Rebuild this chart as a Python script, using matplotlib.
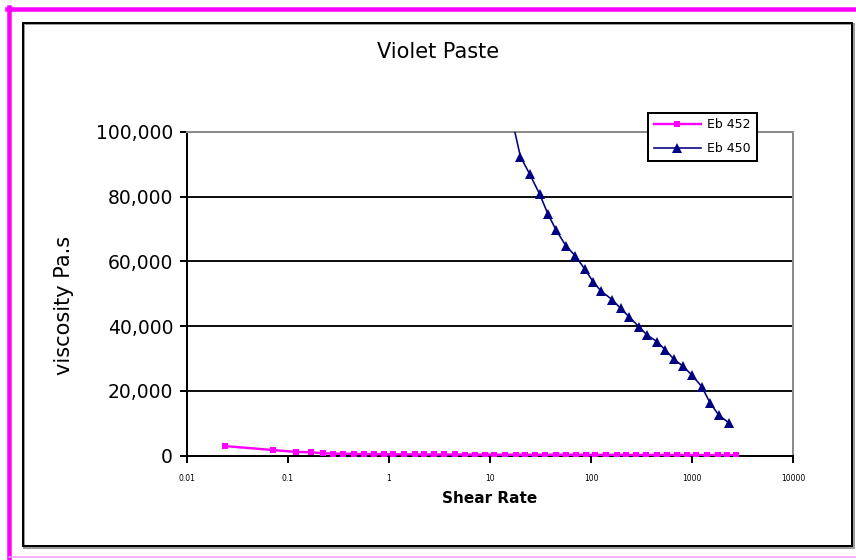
import matplotlib
matplotlib.use("Agg")
import matplotlib.pyplot as plt
from matplotlib.lines import Line2D
from matplotlib.patches import Rectangle
from matplotlib.ticker import FixedLocator, FixedFormatter, NullLocator

plt.rcParams['font.family'] = ['DejaVu Sans']

title = "Violet Paste"
x_label = "Shear Rate"
y_label = "viscosity Pa.s"

x_ticks = [0.01, 0.1, 1, 10, 100, 1000, 10000]
x_tick_labels = ["0.01", "0.1", "1", "10", "100", "1000", "10000"]
y_ticks = [0, 20000, 40000, 60000, 80000, 100000]
y_tick_labels = ["0", "20,000", "40,000", "60,000", "80,000", "100,000"]

eb452_name = "Eb 452"
eb452_x = [0.024, 0.071, 0.12, 0.17, 0.22, 0.28, 0.35, 0.45, 0.56, 0.71, 0.89,
           1.1, 1.4, 1.8, 2.2, 2.8, 3.5, 4.5, 5.6, 7.1, 8.9, 11, 14, 18, 22,
           28, 35, 45, 56, 71, 89, 110, 140, 180, 220, 280, 350, 450, 560,
           710, 890, 1100, 1400, 1800, 2200, 2700]
eb452_y = [2900, 1700, 1100, 1000, 700, 600, 550, 500, 460, 430, 410,
           390, 370, 350, 340, 330, 320, 310, 300, 290, 280, 270, 260, 250, 245,
           240, 235, 230, 225, 220, 215, 210, 205, 200, 195, 190, 185, 180, 175,
           170, 165, 160, 155, 150, 145, 140]

eb450_name = "Eb 450"
eb450_x = [16.5, 20.0, 24.7, 31.0, 37.4, 45.1, 56.5, 70.0, 86.9, 105, 125, 163,
           196, 238, 298, 360, 451, 544, 667, 807, 995, 1248, 1507, 1841, 2337]
eb450_y = [104000, 92400, 87000, 80800, 74700, 69700, 64800, 61700, 57600, 53700,
           50900, 48100, 45500, 42900, 39800, 37200, 35200, 32600, 29700, 27700,
           24900, 21300, 16300, 12500, 10000]

W, H = 856, 560
fig = plt.figure(figsize=(W / 100, H / 100), dpi=100)
PX = 72 / 100  # points per pixel

# outer magenta frame
fig.add_artist(Line2D([7 / W, 1.0], [1 - 8.5 / H, 1 - 8.5 / H], color="#FF00FF", lw=4.5 * PX,
                      transform=fig.transFigure))
fig.add_artist(Line2D([9 / W, 9 / W], [1 - 6.5 / H, 0.0], color="#FF00FF", lw=4.5 * PX,
                      transform=fig.transFigure))
fig.add_artist(Line2D([9 / W, 1.0], [1 - 557 / H, 1 - 557 / H], color="#F49CF4", lw=1.5 * PX,
                      transform=fig.transFigure))
# inner chart frame with a soft shadow
fig.add_artist(Rectangle((24 / W, 1 - 548 / H), (830) / W, (524) / H, fill=False,
                         edgecolor="#9a9a9a", lw=2 * PX, transform=fig.transFigure))
fig.add_artist(Rectangle((22.5 / W, 1 - 546 / H), (829.5) / W, (523.5) / H, fill=False,
                         edgecolor="black", lw=2 * PX, transform=fig.transFigure))

left, right, top, bottom = 187, 793, 132, 455.5
ax = fig.add_axes([left / W, 1 - bottom / H, (right - left) / W, (bottom - top) / H])

ax.set_xscale("log")
ax.set_xlim(0.01, 10000)
ax.set_ylim(0, 100000)

ax.plot(eb452_x, eb452_y, color="#FF00FF", lw=2.4 * PX, marker="s", markersize=3.8,
        markeredgewidth=0, label=eb452_name, zorder=3, clip_on=True)
ax.plot(eb450_x, eb450_y, color="#000080", lw=1.6 * PX, marker="^", markersize=6.5,
        markeredgewidth=0, label=eb450_name, zorder=4, clip_on=True)

ax.xaxis.set_major_locator(FixedLocator(x_ticks))
ax.xaxis.set_major_formatter(FixedFormatter(x_tick_labels))
ax.xaxis.set_minor_locator(NullLocator())
ax.yaxis.set_major_locator(FixedLocator(y_ticks))
ax.yaxis.set_major_formatter(FixedFormatter(y_tick_labels))

for yv in y_ticks[1:-1]:
    ax.axhline(yv, color="#111111", lw=2 * PX, zorder=1)

for s in ("left", "bottom"):
    ax.spines[s].set_color("black")
    ax.spines[s].set_linewidth(2 * PX)
for s in ("top", "right"):
    ax.spines[s].set_color("#8c8c8c")
    ax.spines[s].set_linewidth(2 * PX)

ax.tick_params(axis="y", direction="out", length=5, width=2 * PX, labelsize=13.5, pad=5,
               colors="black")
ax.tick_params(axis="x", direction="out", length=5, width=2 * PX, labelsize=5.5, pad=8,
               colors="black")

ax.set_xlabel(x_label, fontsize=11, fontweight="bold", labelpad=6)
fig.text(64 / W, 1 - 305 / H, y_label, rotation=90, fontsize=15, ha="center", va="center")
fig.text(438 / W, 1 - 52 / H, title, fontsize=15, ha="center", va="center")

leg = ax.legend(loc="lower left", bbox_to_anchor=(648 / W, 1 - 161 / H),
                bbox_transform=fig.transFigure, fontsize=9, frameon=True, fancybox=False,
                borderpad=0.45, handlelength=3.8, handletextpad=0.5, labelspacing=0.9,
                borderaxespad=0)
leg.get_frame().set_edgecolor("black")
leg.get_frame().set_linewidth(2 * PX)
leg.get_frame().set_facecolor("white")
leg.get_frame().set_alpha(1)

fig.savefig("out.png", dpi=100)
